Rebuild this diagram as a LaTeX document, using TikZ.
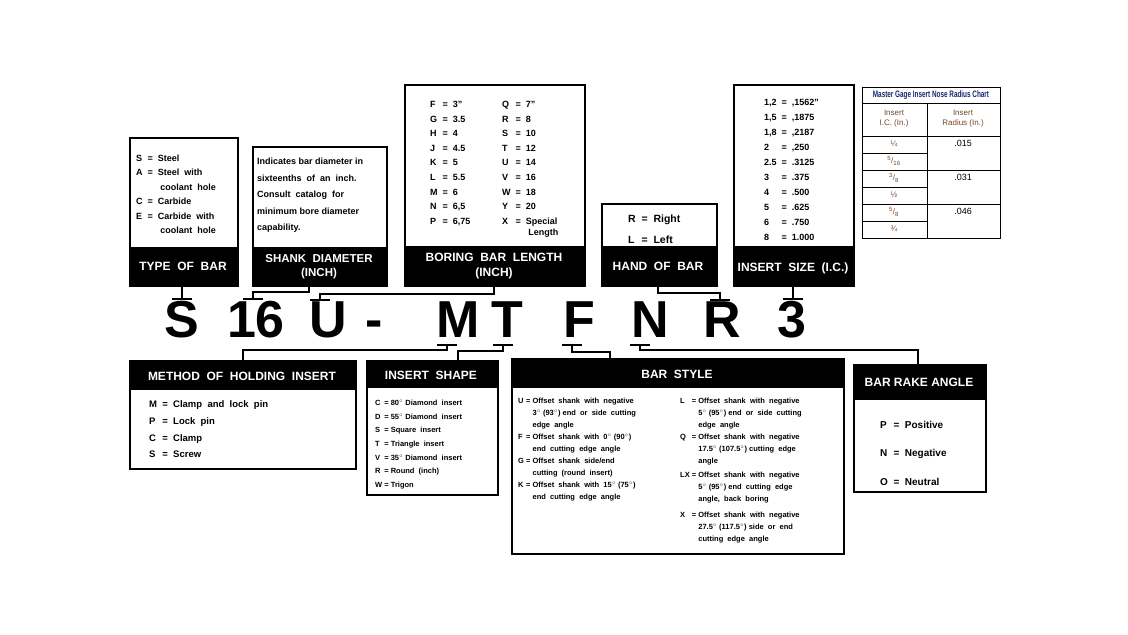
\documentclass[tikz,border=0pt]{standalone}
\usepackage{fontspec}
\setmainfont{Liberation Sans}
\usetikzlibrary{positioning}
\definecolor{navy}{RGB}{20,40,110}
\definecolor{brn}{RGB}{120,70,40}
\tikzset{
 wbox/.style={draw=black,line width=2pt,anchor=north west,inner sep=0pt,fill=white},
 head/.style={text=white,font=\bfseries\fontsize{12}{13}\selectfont,align=center},
 txt/.style={anchor=north west,inner sep=0pt,align=left},
 big/.style={font=\bfseries\fontsize{52}{52}\selectfont,inner sep=0pt,anchor=base},
 con/.style={line width=1.8pt},
 tick/.style={line width=2pt},
 tb/.style={draw=black,line width=0.6pt}
}
\newcommand{\dg}{$^{\circ}$}
\begin{document}
\begin{tikzpicture}[x=1pt,y=-1pt]
\useasboundingbox (0,0) rectangle (1128,635);
% ---- upper boxes
\node[wbox,minimum width=108,minimum height=148] (tob) at (129,137) {};
\fill (129,247) rectangle (237,285);
\node[head] at (183,266) {TYPE\ \ OF\ \ BAR};
\node[txt,font=\bfseries\fontsize{9}{14.5}\selectfont] at (136,151) {\begin{tabular}{@{}l@{\ \ }c@{\ \ }l@{}}S&=&Steel\\A&=&Steel\ \ with\\&&\ coolant\ \ hole\\C&=&Carbide\\E&=&Carbide\ \ with\\&&\ coolant\ \ hole\end{tabular}};

\node[wbox,minimum width=134,minimum height=139] (shk) at (252,146) {};
\fill (252,247) rectangle (386,285);
\node[head,font=\bfseries\fontsize{11.5}{14}\selectfont] at (319,267) {SHANK\ \ DIAMETER\\(INCH)};
\node[txt,font=\bfseries\fontsize{9}{16.5}\selectfont] at (257,158) {Indicates bar diameter in\\sixteenths\ \ of\ \ an\ \ inch.\\Consult\ \ catalog\ \ for\\minimum bore diameter\\capability.};

\node[wbox,minimum width=180,minimum height=201] (bbl) at (404,84) {};
\fill (404,246) rectangle (584,285);
\node[head,font=\bfseries\fontsize{12}{15}\selectfont] at (494,266) {BORING\ \ BAR\ \ LENGTH\\(INCH)};
\node[txt,font=\bfseries\fontsize{9}{14.6}\selectfont] at (430,97) {\begin{tabular}{@{}l@{\ \ }c@{\ \ }l@{}}F&=&3"\\G&=&3.5\\H&=&4\\J&=&4.5\\K&=&5\\L&=&5.5\\M&=&6\\N&=&6,5\\P&=&6,75\end{tabular}};
\node[txt,font=\bfseries\fontsize{9}{14.6}\selectfont] at (502,97) {\begin{tabular}{@{}l@{\ \ }c@{\ \ }l@{}}Q&=&7"\\R&=&8\\S&=&10\\T&=&12\\U&=&14\\V&=&16\\W&=&18\\Y&=&20\\X&=&Special\\[-3pt]&&\ Length\end{tabular}};

\node[wbox,minimum width=115,minimum height=82] (hob) at (601,203) {};
\fill (601,246) rectangle (716,285);
\node[head] at (658,266) {HAND\ \ OF\ \ BAR};
\node[txt,font=\bfseries\fontsize{10.5}{21}\selectfont] at (628,208) {\begin{tabular}{@{}l@{\ \ }c@{\ \ }l@{}}R&=&Right\\L&=&Left\end{tabular}};

\node[wbox,minimum width=120,minimum height=201] (isz) at (733,84) {};
\fill (733,246) rectangle (853,285);
\node[head] at (793,268) {INSERT\ \ SIZE\ \ (I.C.)};
\node[txt,font=\bfseries\fontsize{9}{15}\selectfont] at (764,95) {\begin{tabular}{@{}l@{\ \ }c@{\ \ }l@{}}1,2&=&,1562"\\1,5&=&,1875\\1,8&=&,2187\\2&=&,250\\2.5&=&.3125\\3&=&.375\\4&=&.500\\5&=&.625\\6&=&.750\\8&=&1.000\end{tabular}};

% ---- table
\draw[tb] (862,87) rectangle (1000,238);
\draw[tb] (862,103) -- (1000,103) (862,136) -- (1000,136) (927,103) -- (927,238);
\draw[tb] (862,170) -- (1000,170) (862,204) -- (1000,204);
\draw[tb] (862,153) -- (927,153) (862,187) -- (927,187) (862,221) -- (927,221);
\node[font=\bfseries\fontsize{8.5}{9}\selectfont,text=navy,inner sep=0pt] (tt) at (931,95) {\scalebox{0.75}[1.1]{Master Gage Insert Nose Radius Chart}};
\node[font=\fontsize{8}{10}\selectfont,text=brn,align=center] at (894,119) {Insert\\I.C. (In.)};
\node[font=\fontsize{8}{10}\selectfont,text=brn,align=center] at (963,119) {Insert\\Radius (In.)};
\foreach \y/\t in {144/{¼},161/{\textsuperscript{5}/\textsubscript{16}},178/{\textsuperscript{3}/\textsubscript{8}},195/{½},212/{\textsuperscript{5}/\textsubscript{8}},229/{¾}}
 \node[font=\fontsize{8}{9}\selectfont,text=brn] at (894,\y) {\t};
\node[font=\fontsize{9}{10}\selectfont] at (963,143) {.015};
\node[font=\fontsize{9}{10}\selectfont] at (963,177) {.031};
\node[font=\fontsize{9}{10}\selectfont] at (963,211) {.046};

% ---- big code
\node[big] (cS) at (182,337) {S};
\node[big] (c16) at (256,337) {16};
\node[big] (cU) at (328,337) {U};
\node[big] (cD) at (374,337) {-};
\node[big] (cM) at (458,337) {M};
\node[big] (cT) at (507,337) {T};
\node[big] (cF) at (579,337) {F};
\node[big] (cN) at (650,337) {N};
\node[big] (cR) at (722,337) {R};
\node[big] (c3) at (792,337) {3};

% upper connectors
\draw[con] (tob.south -| 182,0) -- (182,299);
\draw[tick] (172,299) -- (192,299);
\draw[con] (309,285) -- (309,292) -- (253,292) -- (253,299);
\draw[tick] (243,299) -- (263,299);
\draw[con] (494,285) -- (494,294) -- (320,294) -- (320,300);
\draw[tick] (310,300) -- (330,300);
\draw[con] (658,285) -- (658,293) -- (720,293) -- (720,300);
\draw[tick] (710,300) -- (730,300);
\draw[con] (793,285) -- (793,299);
\draw[tick] (783,299) -- (803,299);

% ---- lower boxes
\node[wbox,minimum width=226,minimum height=108] (mhi) at (129,360) {};
\fill (129,360) rectangle (355,390);
\node[head] at (242,376) {METHOD\ \ OF\ \ HOLDING\ \ INSERT};
\node[txt,font=\bfseries\fontsize{9.5}{16.6}\selectfont] at (149,396) {\begin{tabular}{@{}l@{\ \ }c@{\ \ }l@{}}M&=&Clamp\ \ and\ \ lock\ \ pin\\P&=&Lock\ \ pin\\C&=&Clamp\\S&=&Screw\end{tabular}};

\node[wbox,minimum width=131,minimum height=134] (ish) at (366,360) {};
\fill (366,360) rectangle (497,388);
\node[head] at (431,375) {INSERT\ \ SHAPE};
\node[txt,font=\bfseries\fontsize{7.5}{13.6}\selectfont] at (375,396) {\begin{tabular}{@{}l@{\ }c@{\ }l@{}}C&=&80\dg\ Diamond\ \ insert\\D&=&55\dg\ Diamond\ \ insert\\S&=&Square\ \ insert\\T&=&Triangle\ \ insert\\V&=&35\dg\ Diamond\ \ insert\\R&=&Round\ \ (inch)\\W&=&Trigon\end{tabular}};

\node[wbox,minimum width=332,minimum height=195] (bst) at (511,358) {};
\fill (511,358) rectangle (843,388);
\node[head] at (677,374) {BAR\ \ STYLE};
\node[txt,font=\bfseries\fontsize{7.5}{12}\selectfont] at (518,395) {\begin{tabular}{@{}l@{\ }c@{\ }l@{}}U&=&Offset\ \ shank\ \ with\ \ negative\\&&3\dg\ (93\dg) end\ \ or\ \ side\ \ cutting\\&&edge\ \ angle\\F&=&Offset\ \ shank\ \ with\ \ 0\dg\ (90\dg)\\&&end\ \ cutting\ \ edge\ \ angle\\G&=&Offset\ \ shank\ \ side/end\\&&cutting\ \ (round\ \ insert)\\K&=&Offset\ \ shank\ \ with\ \ 15\dg\ (75\dg)\\&&end\ \ cutting\ \ edge\ \ angle\end{tabular}};
\node[txt,font=\bfseries\fontsize{7.5}{12}\selectfont] at (680,395) {\begin{tabular}{@{}l@{\ }c@{\ }l@{}}L&=&Offset\ \ shank\ \ with\ \ negative\\&&5\dg\ (95\dg) end\ \ or\ \ side\ \ cutting\\&&edge\ \ angle\\Q&=&Offset\ \ shank\ \ with\ \ negative\\&&17.5\dg\ (107.5\dg) cutting\ \ edge\\&&angle\\[2pt]LX\hspace{-3pt}&=&Offset\ \ shank\ \ with\ \ negative\\&&5\dg\ (95\dg) end\ \ cutting\ \ edge\\&&angle,\ \ back\ \ boring\\[4pt]X&=&Offset\ \ shank\ \ with\ \ negative\\&&27.5\dg\ (117.5\dg) side\ \ or\ \ end\\&&cutting\ \ edge\ \ angle\end{tabular}};

\node[wbox,minimum width=132,minimum height=127] (bra) at (853,364) {};
\fill (853,364) rectangle (985,400);
\node[head] at (919,382) {BAR RAKE ANGLE};
\node[txt,font=\bfseries\fontsize{10}{28.5}\selectfont] at (880,408) {\begin{tabular}{@{}l@{\ \ }c@{\ \ }l@{}}P&=&Positive\\N&=&Negative\\O&=&Neutral\end{tabular}};

% lower connectors
\draw[tick] (437,345) -- (457,345);
\draw[con] (447,345) -- (447,350) -- (243,350) -- (243,360);
\draw[tick] (493,345) -- (513,345);
\draw[con] (503,345) -- (503,351) -- (458,351) -- (458,360);
\draw[tick] (562,345) -- (582,345);
\draw[con] (572,345) -- (572,352) -- (610,352) -- (610,358);
\draw[tick] (630,345) -- (650,345);
\draw[con] (640,345) -- (640,350) -- (918,350) -- (918,364);
\end{tikzpicture}
\end{document}
